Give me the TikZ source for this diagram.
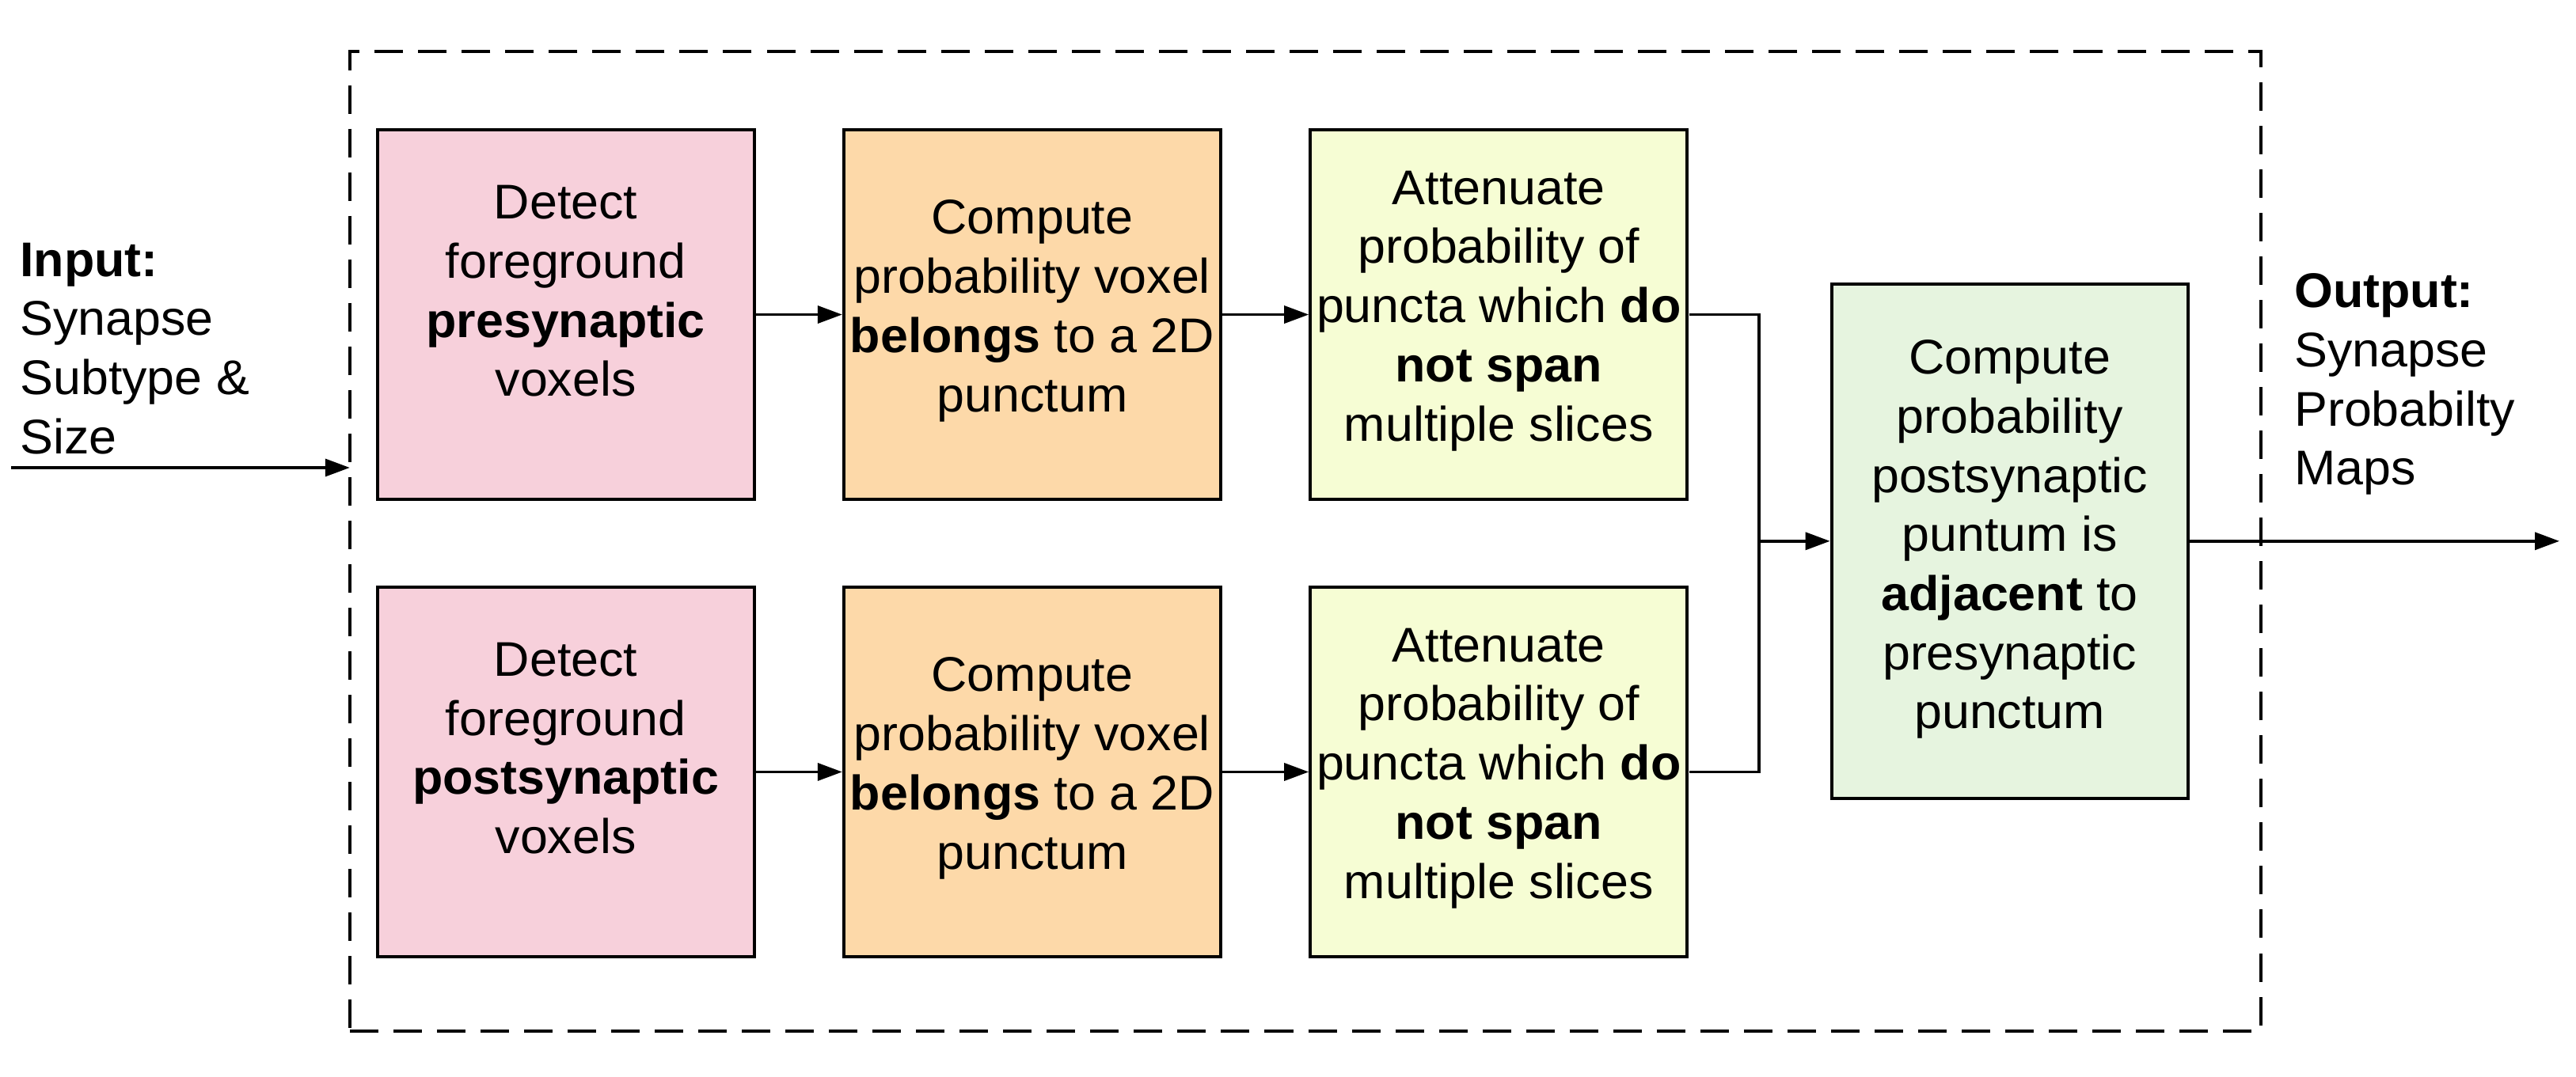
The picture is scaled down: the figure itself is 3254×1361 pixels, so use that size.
\documentclass[tikz,border=0pt]{standalone}
\usepackage{fontspec}
\setmainfont{Liberation Sans}[FakeStretch=1.02]
\usetikzlibrary{positioning,arrows.meta}

\definecolor{detectpink}{HTML}{F7D0DB}
\definecolor{belongorange}{HTML}{FDD9A9}
\definecolor{attenyellow}{HTML}{F6FDD4}
\definecolor{adjgreen}{HTML}{E6F4DF}

\begin{document}
\begin{tikzpicture}[x=0.01cm, y=-0.01cm, >={Triangle[length=0.31cm, width=0.22cm]}]
        \tikzstyle{every node}=[font=\fontsize{17.5pt}{21.25pt}\selectfont]
        \tikzstyle{stage}=[draw, line width=0.04cm, minimum width=4.76cm, minimum height=4.67cm, align=center, inner sep=0pt]
        \tikzstyle{detect}=[stage, fill=detectpink, text depth=0.6cm]
        \tikzstyle{belong}=[stage, fill=belongorange, text depth=0.22cm]
        \tikzstyle{atten}=[stage, fill=attenyellow, text depth=0.22cm]
        \tikzstyle{link}=[line width=0.035cm]
        \tikzstyle{caption}=[anchor=north west, align=left, inner sep=0pt]

        \useasboundingbox (0,0) rectangle (3254,1361);

        \node (frame) [draw, line width=0.04cm, dash pattern=on 0.36cm off 0.19cm, outer sep=0pt,
                       minimum width=24.125cm, minimum height=12.374cm] at (1648.75,684) {};

        \matrix (grid) [draw=none, column sep=1.09cm, row sep=1.066cm] at (1304,686.5) {
            \node (pre)        [detect] {Detect\\ foreground\\ \textbf{presynaptic}\\ voxels}; &
            \node (prebelong)  [belong] {Compute\\ probability voxel\\ \textbf{belongs} to a 2D\\ punctum}; &
            \node (preatten)   [atten]  {Attenuate\\ probability of\\ puncta which \textbf{do}\\ \textbf{not span}\\ multiple slices}; \\
            \node (post)       [detect] {Detect\\ foreground\\ \textbf{postsynaptic}\\ voxels}; &
            \node (postbelong) [belong] {Compute\\ probability voxel\\ \textbf{belongs} to a 2D\\ punctum}; &
            \node (postatten)  [atten]  {Attenuate\\ probability of\\ puncta which \textbf{do}\\ \textbf{not span}\\ multiple slices}; \\
        };

        \node (adj) [stage, fill=adjgreen, minimum width=4.496cm, minimum height=6.491cm, text depth=0.17cm] at (2538.6,683.8)
            {Compute\\ probability\\ postsynaptic\\ puntum is\\ \textbf{adjacent} to\\ presynaptic\\ punctum};

        \node (input)  [caption] at (24.7,306)   {\textbf{Input:}\\ Synapse\\ Subtype \&\\ Size};
        \node (output) [caption] at (2897.5,345) {\textbf{Output:}\\ Synapse\\ Probabilty\\ Maps};

        \coordinate (source) at (14,591);
        \coordinate (merge)  at (2222,683.8);
        \coordinate (sink)   at (3233,683.8);

        \draw[link, ->] (source) -- (source -| frame.west);
        \draw[link, ->] (pre) -- (prebelong);
        \draw[link, ->] (prebelong) -- (preatten);
        \draw[link, ->] (post) -- (postbelong);
        \draw[link, ->] (postbelong) -- (postatten);
        \draw[link] (preatten) -| (merge);
        \draw[link] (postatten) -| (merge);
        \draw[link, ->] (merge) -- (adj);
        \draw[link, ->] (adj) -- (sink);

    \end{tikzpicture}
\end{document}
